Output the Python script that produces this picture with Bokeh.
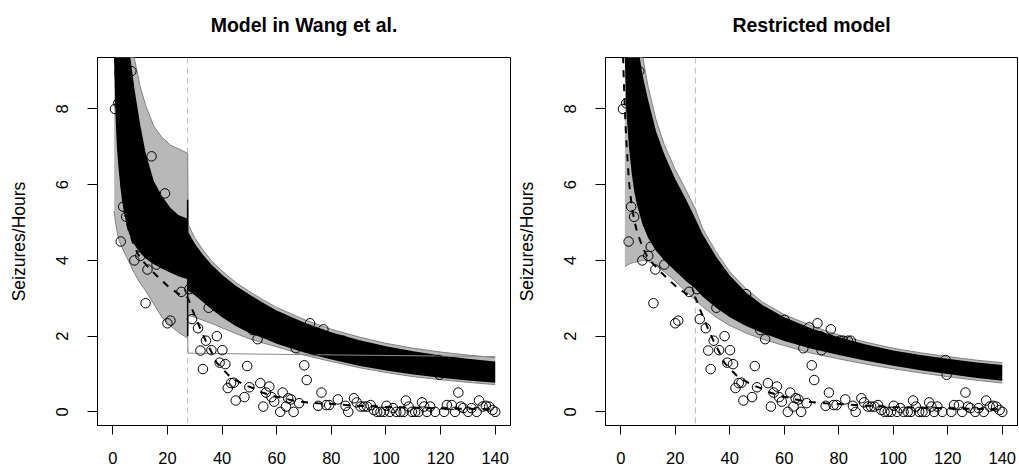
from bokeh.plotting import figure
from bokeh.layouts import row
from bokeh.models import FixedTicker, Span, Title
from bokeh.embed import file_html
from bokeh.resources import INLINE

# ---------------- data ----------------
x_ticks = [0, 20, 40, 60, 80, 100, 120, 140]
y_ticks = [0, 2, 4, 6, 8]
change_point = 27.4

obs_x = [0.8, 2.0, 2.9, 3.8, 4.9, 6.9, 6.8, 7.9, 10.1, 11.0, 12.0, 12.7, 14.2, 14.9, 16.0,
         19.1, 20.0, 21.1, 21.6, 23.1, 23.9, 25.1, 26.3, 28.0, 29.0, 31.2, 32.1, 33.0, 34.1,
         35.1, 36.1, 38.1, 39.1, 40.1, 41.2, 42.1, 43.3, 44.3, 45.0, 46.0, 47.5, 48.2, 49.2,
         50.0, 51.2, 53.0, 54.0, 55.1, 56.1, 57.3, 58.1, 59.1, 60.1, 61.3, 62.2, 63.4, 64.2,
         65.2, 66.2, 67.0, 68.2, 69.1, 70.1, 71.0, 72.2, 73.2, 73.7, 75.2, 76.4, 77.1, 78.1,
         79.2, 80.4, 81.6, 82.4, 83.4, 84.4, 85.2, 86.2, 88.3, 89.3, 90.7, 91.9, 93.1, 94.4,
         95.6, 96.8, 98.0, 99.2, 100.2, 101.4, 102.6, 103.8, 105.3, 106.5, 107.3, 108.3, 109.5,
         110.7, 111.9, 113.2, 114.0, 115.0, 116.2, 118.0, 119.2, 119.6, 121.3, 122.3, 124.1,
         125.3, 126.5, 127.4, 128.3, 130.1, 131.3, 133.2, 134.1, 135.4, 136.6, 137.8, 139.0, 140.0]
obs_y = [8.0, 8.15, 4.5, 5.42, 5.15, 6.75, 9.0, 4.0, 4.12, 4.36, 2.87, 3.76, 6.75, 4.5, 3.89,
         5.77, 2.34, 2.41, 4.38, 3.77, 3.80, 3.17, 3.85, 3.24, 2.45, 2.21, 1.62, 1.13, 1.88,
         2.75, 1.63, 2.0, 1.30, 1.63, 1.26, 0.63, 0.76, 0.77, 0.30, 3.11, 2.88, 0.39, 1.21,
         0.65, 2.16, 1.92, 0.76, 0.14, 0.51, 0.67, 0.39, 0.27, 2.43, 0.0, 0.51, 0.14, 0.36,
         0.33, 0.0, 1.68, 0.23, 2.23, 1.23, 0.84, 2.34, 2.0, 1.63, 0.16, 0.51, 2.18, 0.18,
         0.18, 1.88, 1.88, 0.33, 1.88, 1.88, 0.16, 0.0, 0.36, 0.25, 0.14, 0.14, 0.14, 0.18,
         0.05, 0.0, 0.0, 0.0, 0.16, 0.0, 0.10, 0.0, 0.0, 0.0, 0.30, 0.14, 0.0,
         0.0, 0.0, 0.25, 0.14, 0.0, 0.14, 0.0, 1.37, 0.98, 0.0, 0.18, 0.18,
         0.0, 0.51, 0.14, 0.10, 0.0, 0.10, 0.0, 0.30, 0.14, 0.16, 0.14, 0.05, 0.0]

fit_x = [0.5, 1, 1.5, 2, 3, 4, 5, 6, 8, 10, 13, 16, 20, 24, 27.4, 28, 29, 30, 32, 34, 36,
         38, 42.5, 45, 48.6, 52, 54.6, 60, 68, 75, 82, 90, 100, 110, 120, 130, 140]
fit_y = [10.5, 9.0, 8.0, 7.2, 6.1, 5.45, 5.05, 4.75, 4.35, 4.06, 3.82, 3.6, 3.33, 3.12, 3.02,
         2.92, 2.72, 2.55, 2.2, 1.88, 1.6, 1.3, 0.96, 0.84, 0.70, 0.61, 0.51, 0.40, 0.27, 0.23,
         0.20, 0.16, 0.13, 0.11, 0.09, 0.08, 0.07]

# Model in Wang et al. (curves jump at the change point)
wang_x = [0.5, 1, 1.5, 2, 3, 4, 5, 6, 8, 10, 12, 15, 18, 21, 24, 27.4,
          27.6, 30, 33, 36, 40, 45, 50, 55, 60, 70, 80, 90, 100, 110, 120, 130, 140]
wang_core_hi = [10, 10, 10, 10, 10, 10, 10, 9.6, 8.5, 7.6, 6.85, 6.1, 5.7, 5.4, 5.2, 5.1,
                4.75, 4.45, 4.15, 3.9, 3.62, 3.33, 3.1, 2.88, 2.68, 2.36, 2.1, 1.9, 1.73, 1.6, 1.49, 1.4, 1.33]
wang_core_lo = [9.3, 7.8, 7.0, 6.5, 5.8, 5.3, 4.95, 4.7, 4.4, 4.2, 4.05, 3.9, 3.78, 3.68, 3.58, 3.5,
                3.2, 3.08, 2.9, 2.72, 2.5, 2.27, 2.08, 1.95, 1.8, 1.57, 1.38, 1.22, 1.09, 0.99, 0.9, 0.83, 0.77]
wang_spread_hi = [10, 10, 10, 10, 10, 10, 10, 10, 9.3, 8.6, 8.1, 7.55, 7.25, 7.05, 6.95, 6.83,
                  4.95, 4.6, 4.28, 4.0, 3.72, 3.42, 3.18, 2.96, 2.76, 2.44, 2.18, 1.98, 1.81, 1.68, 1.58, 1.5, 1.43]
wang_spread_lo = [5.3, 5.0, 4.8, 4.6, 4.4, 4.25, 4.1, 3.95, 3.65, 3.4, 3.2, 2.85, 2.5, 2.28, 2.1, 1.95,
                  2.55, 2.5, 2.42, 2.34, 2.22, 2.07, 1.93, 1.82, 1.72, 1.5, 1.33, 1.17, 1.04, 0.93, 0.85, 0.78, 0.72]
wang_out_x = [27.4, 27.6, 60, 100, 140]
wang_out_y = [1.95, 1.55, 1.52, 1.49, 1.46]
wang_jump_span = [2.0, 5.6]   # dense black drop segments at the change point

# Restricted model (continuous curves)
rest_x = [1.5, 2, 3, 4, 5, 6, 8, 10, 13, 16, 20, 24, 27.4, 30, 35, 40, 46, 52, 60, 70, 80,
          90, 100, 110, 120, 130, 140]
rest_core_hi = [10, 10, 10, 10, 10, 9.8, 8.9, 8.25, 7.4, 6.8, 6.15, 5.6, 5.1, 4.7, 4.1, 3.6, 3.15,
                2.82, 2.5, 2.2, 1.97, 1.78, 1.62, 1.5, 1.4, 1.31, 1.24]
rest_core_lo = [9.36, 8.0, 7.0, 6.3, 5.8, 5.45, 4.95, 4.6, 4.25, 4.0, 3.72, 3.45, 3.25, 3.05, 2.75,
                2.5, 2.27, 2.08, 1.87, 1.67, 1.5, 1.35, 1.22, 1.1, 1.0, 0.9, 0.82]
rest_spread_hi = [10, 10, 10, 10, 10, 10, 9.4, 8.6, 7.7, 7.05, 6.4, 5.85, 5.35, 4.85, 4.22, 3.7,
                  3.25, 2.9, 2.57, 2.27, 2.03, 1.84, 1.68, 1.56, 1.46, 1.37, 1.3]
rest_spread_lo = [3.83, 3.86, 3.9, 3.93, 3.95, 3.97, 4.0, 3.98, 3.85, 3.7, 3.45, 3.18, 2.95, 2.78,
                  2.5, 2.28, 2.08, 1.92, 1.75, 1.55, 1.4, 1.26, 1.14, 1.03, 0.93, 0.84, 0.76]

FONT = "Liberation Sans"


def make_panel(title, xs, s_lo, s_hi, c_lo, c_hi, out_x, out_y, jump, width, border_left):
    p = figure(width=width, height=469, x_range=(-5.6, 145.6), y_range=(-0.36, 9.36),
               output_backend="svg", toolbar_location=None,
               min_border_left=border_left, min_border_right=2,
               min_border_top=57, min_border_bottom=44)
    p.background_fill_color = "white"
    p.border_fill_color = "white"
    p.outline_line_color = "black"
    p.outline_line_width = 1
    p.grid.visible = False

    # blank spacer between frame and title, then the real title further out
    p.add_layout(Title(text=" ", text_font_size="10px", standoff=8), "above")
    p.add_layout(Title(text=title, align="center", text_font=FONT, text_font_style="bold",
                       text_font_size="19.5px", text_color="black", standoff=2), "above")

    for ax in (p.xaxis[0], p.yaxis[0]):
        ax.major_tick_in = 0
        ax.minor_tick_line_color = None
        ax.major_tick_line_color = "black"
        ax.axis_line_color = "black"
        ax.major_label_text_font = FONT
        ax.major_label_text_font_size = "16.5px"
        ax.major_label_text_color = "black"
    p.xaxis.major_tick_out = 9
    p.xaxis.major_label_standoff = 17
    p.yaxis.major_tick_out = 10
    p.yaxis.major_label_standoff = 19
    p.xaxis.ticker = FixedTicker(ticks=x_ticks)
    p.yaxis.ticker = FixedTicker(ticks=y_ticks)
    p.yaxis.major_label_orientation = "vertical"
    p.yaxis.axis_label = "Seizures/Hours"
    p.yaxis.axis_label_text_font = FONT
    p.yaxis.axis_label_text_font_style = "normal"
    p.yaxis.axis_label_text_font_size = "17.5px"
    p.yaxis.axis_label_text_color = "black"
    p.yaxis.axis_label_standoff = 25

    p.add_layout(Span(location=change_point, dimension="height", line_color="#bebebe",
                      line_dash="6 4", line_width=1, level="underlay"))

    p.varea(x=xs, y1=s_lo, y2=s_hi, fill_color="#b8b8b8", fill_alpha=1.0)
    p.line(xs, s_lo, line_color="#808080", line_width=1)
    p.line(xs, s_hi, line_color="#808080", line_width=1)
    p.varea(x=xs, y1=c_lo, y2=c_hi, fill_color="black")
    if out_x is not None:
        p.line(out_x, out_y, line_color="#8a8a8a", line_width=1)
    if jump is not None:
        p.line([change_point, change_point], jump, line_color="black", line_width=1.5)

    p.scatter(obs_x, obs_y, marker="circle", size=9.5, line_color="black",
              fill_color=None, line_width=1)
    p.line(fit_x, fit_y, line_color="black", line_width=2, line_dash="7 7")
    return p


p1 = make_panel("Model in Wang et al.", wang_x, wang_spread_lo, wang_spread_hi,
                wang_core_lo, wang_core_hi, wang_out_x, wang_out_y, wang_jump_span, 512, 97)
p2 = make_panel("Restricted model", rest_x, rest_spread_lo, rest_spread_hi,
                rest_core_lo, rest_core_hi, None, None, None, 507, 93)

layout = row(p1, p2)
open("out.html", "w").write(file_html(layout, INLINE))
